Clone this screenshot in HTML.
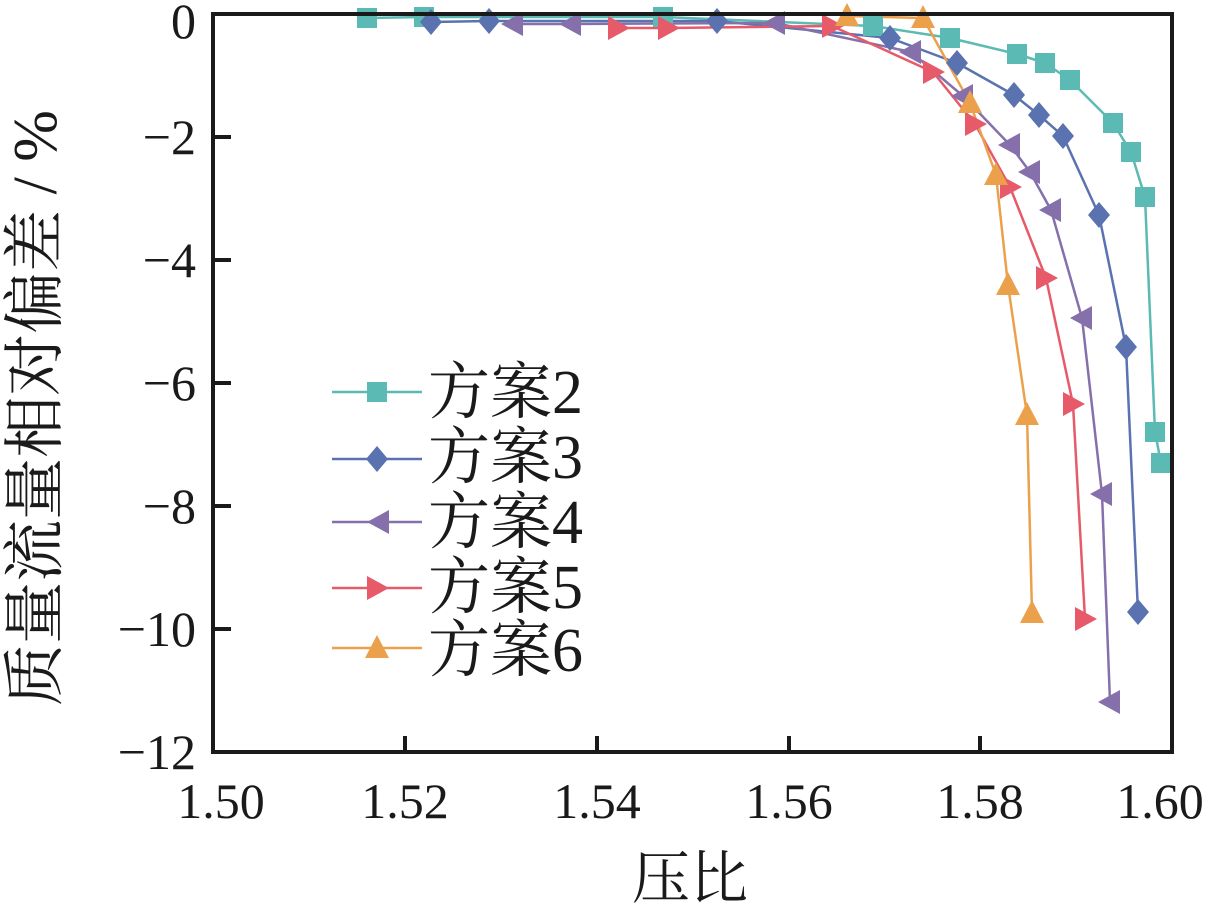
<!DOCTYPE html>
<html><head><meta charset="utf-8"><style>
html,body{margin:0;padding:0;background:#fff;}
svg text{font-family:"Liberation Serif","Noto Serif CJK SC",serif;fill:#1a1a1a;}
</style></head><body>
<svg width="1223" height="909" viewBox="0 0 1223 909" xmlns="http://www.w3.org/2000/svg">
<defs>
<g id="sq"><rect x="-10" y="-10" width="20" height="20" fill="#5bbab4"/></g>
<g id="dm"><path d="M0,-13 L11,0 L0,13 L-11,0Z" fill="#5a72b0"/></g>
<g id="lt"><path d="M-12,0 L10,-12 L10,12Z" fill="#8670ab"/></g>
<g id="rt"><path d="M12,0 L-10,-12 L-10,12Z" fill="#e65a6a"/></g>
<g id="ut"><path d="M0,-13 L12,10 L-12,10Z" fill="#eba14c"/></g>
</defs>
<g fill="none" stroke-width="2.5" stroke-linejoin="round">
<polyline stroke="#5bbab4" points="367,18 424,17 663,17 873,26 950,38 1017,54 1045,63 1070,80 1113,123 1131,152 1145,197 1155,432 1161,463"/>
<polyline stroke="#5a72b0" points="431,22 489,21 717,21 890,38 957,63 1014,95 1039,115 1063,136 1099,215 1126,347 1138,612"/>
<polyline stroke="#8670ab" points="513,24 571,24 775,23 911,52 963,96 1010,145 1030,172 1051,210 1082,318 1102,494 1110,702"/>
<polyline stroke="#e65a6a" points="618,28 668,28 832,26 933,72 975,124 1010,187 1046,278 1073,404 1085,619"/>
<polyline stroke="#eba14c" points="847,16 923,18 970,103 996,175 1008,285 1027,415 1032,613"/>
</g>
<g>
<use href="#sq" x="367" y="18"/><use href="#sq" x="424" y="17"/><use href="#sq" x="663" y="17"/><use href="#sq" x="873" y="26"/><use href="#sq" x="950" y="38"/><use href="#sq" x="1017" y="54"/><use href="#sq" x="1045" y="63"/><use href="#sq" x="1070" y="80"/><use href="#sq" x="1113" y="123"/><use href="#sq" x="1131" y="152"/><use href="#sq" x="1145" y="197"/><use href="#sq" x="1155" y="432"/><use href="#sq" x="1161" y="463"/>
<use href="#dm" x="431" y="22"/><use href="#dm" x="489" y="21"/><use href="#dm" x="717" y="21"/><use href="#dm" x="890" y="38"/><use href="#dm" x="957" y="63"/><use href="#dm" x="1014" y="95"/><use href="#dm" x="1039" y="115"/><use href="#dm" x="1063" y="136"/><use href="#dm" x="1099" y="215"/><use href="#dm" x="1126" y="347"/><use href="#dm" x="1138" y="612"/>
<use href="#lt" x="513" y="24"/><use href="#lt" x="571" y="24"/><use href="#lt" x="775" y="23"/><use href="#lt" x="911" y="52"/><use href="#lt" x="963" y="96"/><use href="#lt" x="1010" y="145"/><use href="#lt" x="1030" y="172"/><use href="#lt" x="1051" y="210"/><use href="#lt" x="1082" y="318"/><use href="#lt" x="1102" y="494"/><use href="#lt" x="1110" y="702"/>
<use href="#rt" x="618" y="28"/><use href="#rt" x="668" y="28"/><use href="#rt" x="832" y="26"/><use href="#rt" x="933" y="72"/><use href="#rt" x="975" y="124"/><use href="#rt" x="1010" y="187"/><use href="#rt" x="1046" y="278"/><use href="#rt" x="1073" y="404"/><use href="#rt" x="1085" y="619"/>
<use href="#ut" x="847" y="16"/><use href="#ut" x="923" y="18"/><use href="#ut" x="970" y="103"/><use href="#ut" x="996" y="175"/><use href="#ut" x="1008" y="285"/><use href="#ut" x="1027" y="415"/><use href="#ut" x="1032" y="613"/>
</g>
<rect x="213" y="14" width="959" height="738" fill="none" stroke="#1a1a1a" stroke-width="4"/>
<g stroke="#1a1a1a" stroke-width="4">
<line x1="405" y1="752" x2="405" y2="736"/><line x1="597" y1="752" x2="597" y2="736"/><line x1="789" y1="752" x2="789" y2="736"/><line x1="980" y1="752" x2="980" y2="736"/>
<line x1="213" y1="137" x2="231" y2="137"/><line x1="213" y1="260" x2="231" y2="260"/><line x1="213" y1="383" x2="231" y2="383"/><line x1="213" y1="506" x2="231" y2="506"/><line x1="213" y1="629" x2="231" y2="629"/>
</g>
<g font-size="50" text-anchor="end">
<text x="196" y="38">0</text>
<text x="196" y="154">−2</text>
<text x="196" y="277">−4</text>
<text x="196" y="400">−6</text>
<text x="196" y="523">−8</text>
<text x="196" y="646">−10</text>
<text x="196" y="769">−12</text>
</g>
<g font-size="50" text-anchor="middle">
<text x="221" y="818">1.50</text><text x="405" y="818">1.52</text><text x="597" y="818">1.54</text><text x="789" y="818">1.56</text><text x="980" y="818">1.58</text><text x="1160" y="818">1.60</text>
</g>
<text x="690" y="898" font-size="58" text-anchor="middle">压比</text>
<text transform="translate(56,408) rotate(-90)" font-size="62" text-anchor="middle">质量流量相对偏差 / %</text>
<g stroke-width="2.5">
<line x1="332" y1="392" x2="422" y2="392" stroke="#5bbab4"/>
<line x1="332" y1="459" x2="422" y2="459" stroke="#5a72b0"/>
<line x1="332" y1="522" x2="422" y2="522" stroke="#8670ab"/>
<line x1="332" y1="588" x2="422" y2="588" stroke="#e65a6a"/>
<line x1="332" y1="648" x2="422" y2="648" stroke="#eba14c"/>
</g>
<use href="#sq" x="377" y="392"/><use href="#dm" x="377" y="459"/><use href="#lt" x="379" y="522"/><use href="#rt" x="377" y="588"/><use href="#ut" x="377" y="648"/>
<g font-size="62">
<text x="428" y="413">方案2</text>
<text x="428" y="478">方案3</text>
<text x="428" y="543">方案4</text>
<text x="428" y="608">方案5</text>
<text x="428" y="671">方案6</text>
</g>
</svg>
</body></html>
